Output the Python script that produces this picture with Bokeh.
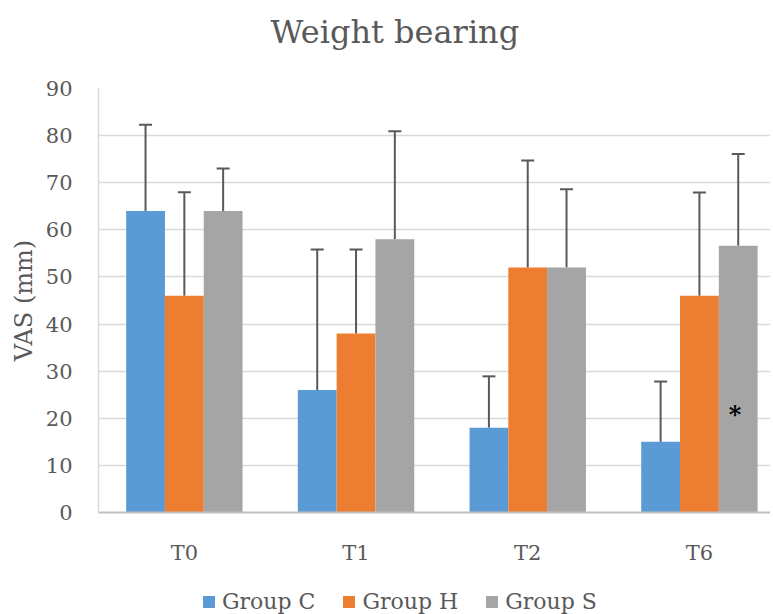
from bokeh.plotting import figure
from bokeh.layouts import column
from bokeh.models import (ColumnDataSource, Whisker, TeeHead, Legend, LegendItem,
                          FixedTicker, Range1d)
from bokeh.transform import dodge
from bokeh.core.properties import value
from bokeh.embed import file_html
from bokeh.resources import INLINE

# ---- data ----
times = ["T0", "T1", "T2", "T6"]
groups = ["Group C", "Group H", "Group S"]
group_c = [64, 26, 18, 15]
group_h = [46, 38, 52, 46]
group_s = [64, 58, 52, 56.6]
err_c = [18.3, 29.8, 10.9, 12.8]
err_h = [22.0, 17.8, 22.7, 21.9]
err_s = [9.0, 22.9, 16.6, 19.5]
colors = ["#5B9BD5", "#ED7D31", "#A5A5A5"]
y_ticks = [0, 10, 20, 30, 40, 50, 60, 70, 80, 90]
star_time = ["T6"]
star_y = [20.8]
star_text = ["*"]

FONT = "DejaVu Serif"
GREY = "#595959"
W = 770

# category slots 0..n-1 (the reference's plot area is cropped on the right)
slots = list(range(len(times)))

# ---- title strip ----
tp = figure(width=W, height=70, output_backend="svg", toolbar_location=None,
            min_border=0, x_axis_type=None, y_axis_type=None)
tp.outline_line_color = None
tp.xgrid.grid_line_color = None
tp.ygrid.grid_line_color = None
tp.title.text = "Weight bearing"
tp.title.text_font = FONT
tp.title.text_font_size = "32px"
tp.title.text_font_style = "normal"
tp.title.text_color = GREY
tp.title.align = "left"
tp.title.offset = 172
tp.title.standoff = 20

# ---- main chart ----
p = figure(width=W, height=518, output_backend="svg",
           toolbar_location=None, min_border_left=98, min_border_right=0,
           min_border_top=18, min_border_bottom=76)
p.x_range = Range1d(-0.5, len(times) - 0.586)
p.y_range = Range1d(0, 90)

offsets = [-0.226, 0.0, 0.226]
vals = [group_c, group_h, group_s]
errs = [err_c, err_h, err_s]
for g, v, e, c, off in zip(groups, vals, errs, colors, offsets):
    src = ColumnDataSource(dict(slot=slots, value=v,
                                upper=[a + b for a, b in zip(v, e)]))
    p.vbar(x=dodge("slot", off), top="value", width=0.226,
           source=src, fill_color=c, line_color=None)
    w = Whisker(base=dodge("slot", off), upper="upper",
                lower="value", source=src, line_color=GREY, line_width=2,
                upper_head=TeeHead(size=13, line_color=GREY, line_width=2),
                lower_head=None)
    p.add_layout(w)

star_src = ColumnDataSource(dict(slot=[times.index(t) for t in star_time],
                                 y=star_y, t=star_text))
p.text(x=dodge("slot", 0.208), y="y", text="t", source=star_src,
       text_font=value(FONT), text_font_size="24px", text_color="black",
       text_font_style="bold", text_align="center", text_baseline="middle")

# axes
p.yaxis.ticker = FixedTicker(ticks=y_ticks)
p.yaxis.axis_line_color = "#d9d9d9"
p.yaxis.axis_line_width = 1.5
p.yaxis.major_tick_line_color = None
p.yaxis.minor_tick_line_color = None
p.yaxis.major_label_text_font = FONT
p.yaxis.major_label_text_font_size = "21px"
p.yaxis.major_label_text_color = GREY
p.yaxis.major_label_standoff = 20
p.yaxis.axis_label = "VAS (mm)"
p.yaxis.axis_label_text_font = FONT
p.yaxis.axis_label_text_font_size = "24px"
p.yaxis.axis_label_text_font_style = "normal"
p.yaxis.axis_label_text_color = GREY
p.yaxis.axis_label_standoff = 5

p.xaxis.ticker = FixedTicker(ticks=slots)
p.xaxis.major_label_overrides = {s: t for s, t in zip(slots, times)}
p.xaxis.axis_line_color = "#bfbfbf"
p.xaxis.axis_line_width = 2
p.xaxis.major_tick_line_color = None
p.xaxis.minor_tick_line_color = None
p.xaxis.major_label_text_font = FONT
p.xaxis.major_label_text_font_size = "21px"
p.xaxis.major_label_text_color = GREY
p.xaxis.major_label_standoff = 22

p.xgrid.grid_line_color = None
p.ygrid.grid_line_color = "#d9d9d9"
p.ygrid.grid_line_width = 1.5
p.outline_line_color = None

# ---- legend strip below the chart (frame aligned with the chart frame) ----
lg = figure(x_range=groups, width=W, height=26, output_backend="svg",
            toolbar_location=None, min_border=0, x_axis_type=None,
            y_axis_type=None)
lg.outline_line_color = None
lg.xgrid.grid_line_color = None
lg.ygrid.grid_line_color = None
items = []
for g, c in zip(groups, colors):
    # zero-height bar: invisible, only provides the legend swatch
    r = lg.vbar(x=[g], top=[0], width=0.5, fill_color=c, line_color=None)
    items.append(LegendItem(label=g, renderers=[r]))
legend = Legend(items=items, orientation="horizontal", location=(103, 0),
                label_text_font=FONT, label_text_font_size="22px",
                label_text_color=GREY, glyph_width=15, glyph_height=15,
                label_standoff=6, spacing=26, padding=0, margin=0,
                border_line_color=None, background_fill_alpha=0)
lg.add_layout(legend, "center")

layout = column(tp, p, lg, spacing=0)
open("out.html", "w").write(file_html(layout, INLINE))
